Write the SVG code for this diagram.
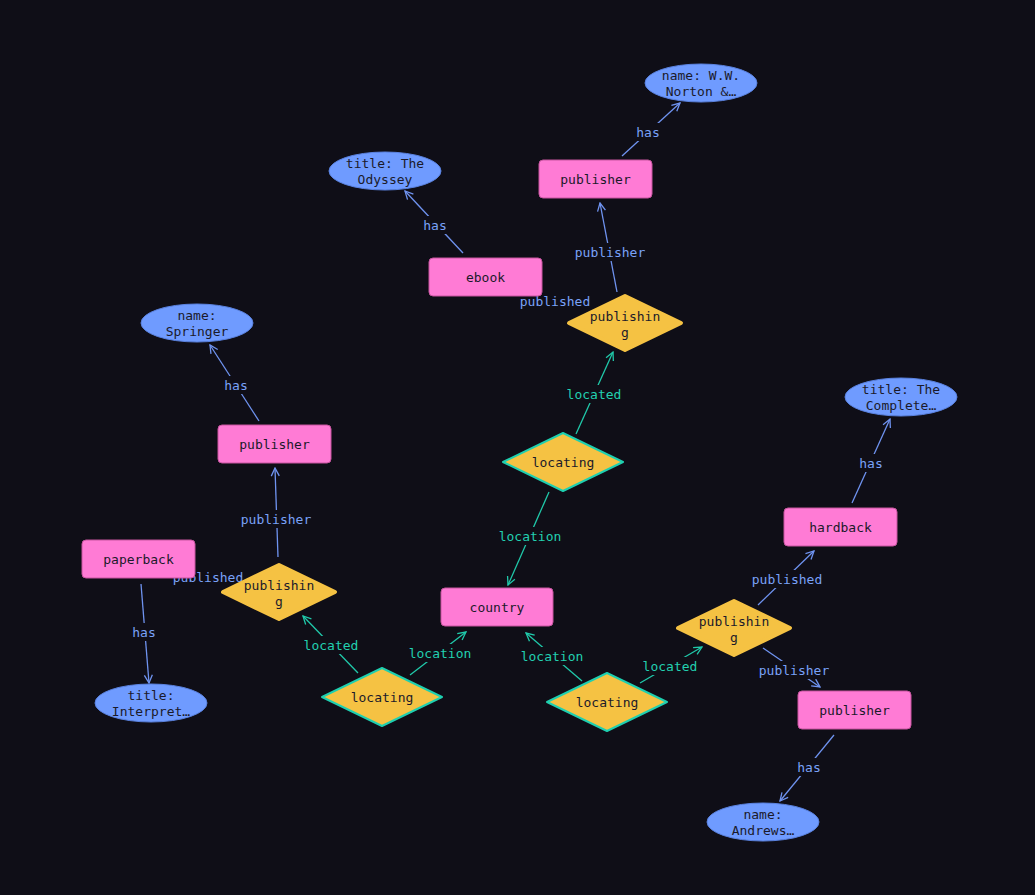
<svg xmlns="http://www.w3.org/2000/svg" width="1035" height="895" viewBox="0 0 1035 895">
<defs>
<marker id="ab" viewBox="0 0 10 10" refX="9" refY="5" markerWidth="10" markerHeight="10" markerUnits="userSpaceOnUse" orient="auto">
<path d="M1,1 L9,5 L1,9" fill="none" stroke="#6f93f0" stroke-width="1.3"/>
</marker>
<marker id="at" viewBox="0 0 10 10" refX="9" refY="5" markerWidth="10" markerHeight="10" markerUnits="userSpaceOnUse" orient="auto">
<path d="M1,1 L9,5 L1,9" fill="none" stroke="#20c9aa" stroke-width="1.3"/>
</marker>
</defs>
<style>
text{font-family:"DejaVu Sans Mono","Liberation Mono",monospace;font-size:13px;text-anchor:middle}
.n{fill:#1b1a2a}
.rect{fill:#ff7bd5;stroke:#c7559f;stroke-width:1}
.ell{fill:#6f9bff;stroke:#5a82e0;stroke-width:1}
.pub{fill:#f5c243;stroke:#f5c243;stroke-width:4;stroke-linejoin:round}
.loc{fill:#f5c243;stroke:#1ecfb0;stroke-width:2;stroke-linejoin:round}
.eb{stroke:#6f93f0;stroke-width:1.3;fill:none;marker-end:url(#ab)}
.et{stroke:#20c9aa;stroke-width:1.3;fill:none;marker-end:url(#at)}
.lb{fill:#7aa2f7}
.lt{fill:#22d0b0}
.bg{fill:#0f0e17}
</style>
<rect width="1035" height="895" fill="#0f0e17"/>
<g id="connectors">
<line class="eb" x1="622" y1="156" x2="680" y2="103"/>
<line class="eb" x1="617" y1="292" x2="600" y2="203"/>
<line class="eb" x1="463" y1="253" x2="405" y2="191"/>
<line class="et" x1="576" y1="434" x2="613" y2="352"/>
<line class="et" x1="549" y1="492" x2="508" y2="585"/>
<line class="eb" x1="259" y1="421" x2="210" y2="345"/>
<line class="eb" x1="278" y1="557" x2="275" y2="468"/>
<line class="eb" x1="141" y1="584" x2="149" y2="683"/>
<line class="et" x1="358" y1="673" x2="303" y2="616"/>
<line class="et" x1="410" y1="675" x2="466" y2="632"/>
<line class="et" x1="582" y1="681" x2="526" y2="633"/>
<line class="et" x1="640" y1="683" x2="702" y2="647"/>
<line class="eb" x1="758" y1="605" x2="814" y2="551"/>
<line class="eb" x1="763" y1="648" x2="820" y2="687"/>
<line class="eb" x1="852" y1="503" x2="890" y2="419"/>
<line class="eb" x1="834" y1="735" x2="780" y2="801"/>
<rect class="bg" x="634" y="123" width="28" height="18"/><text class="lb" x="648" y="137">has</text>
<rect class="bg" x="573" y="243" width="74" height="18"/><text class="lb" x="610" y="257">publisher</text>
<rect class="bg" x="421" y="216" width="28" height="18"/><text class="lb" x="435" y="230">has</text>
<rect class="bg" x="564" y="385" width="60" height="18"/><text class="lt" x="594" y="399">located</text>
<rect class="bg" x="496" y="527" width="68" height="18"/><text class="lt" x="530" y="541">location</text>
<rect class="bg" x="222" y="376" width="28" height="18"/><text class="lb" x="236" y="390">has</text>
<rect class="bg" x="239" y="510" width="74" height="18"/><text class="lb" x="276" y="524">publisher</text>
<rect class="bg" x="130" y="623" width="28" height="18"/><text class="lb" x="144" y="637">has</text>
<rect class="bg" x="301" y="636" width="60" height="18"/><text class="lt" x="331" y="650">located</text>
<rect class="bg" x="406" y="644" width="68" height="18"/><text class="lt" x="440" y="658">location</text>
<rect class="bg" x="518" y="647" width="68" height="18"/><text class="lt" x="552" y="661">location</text>
<rect class="bg" x="640" y="657" width="60" height="18"/><text class="lt" x="670" y="671">located</text>
<rect class="bg" x="750" y="570" width="74" height="18"/><text class="lb" x="787" y="584">published</text>
<rect class="bg" x="757" y="661" width="74" height="18"/><text class="lb" x="794" y="675">publisher</text>
<rect class="bg" x="857" y="454" width="28" height="18"/><text class="lb" x="871" y="468">has</text>
<rect class="bg" x="795" y="758" width="28" height="18"/><text class="lb" x="809" y="772">has</text>
<text class="lb" x="555" y="306">published</text>
<text class="lb" x="208" y="582">published</text>
</g>
<g id="publisher1"><rect class="rect" x="539" y="160" width="113" height="38" rx="4"/><text class="n" x="595.5" y="184">publisher</text></g>
<g id="ebook"><rect class="rect" x="429" y="258" width="113" height="38" rx="4"/><text class="n" x="485.5" y="282">ebook</text></g>
<g id="publisher2"><rect class="rect" x="218" y="425" width="113" height="38" rx="4"/><text class="n" x="274.5" y="449">publisher</text></g>
<g id="paperback"><rect class="rect" x="82" y="540" width="113" height="38" rx="4"/><text class="n" x="138.5" y="564">paperback</text></g>
<g id="country"><rect class="rect" x="441" y="588" width="112" height="38" rx="4"/><text class="n" x="497" y="612">country</text></g>
<g id="hardback"><rect class="rect" x="784" y="508" width="113" height="38" rx="4"/><text class="n" x="840.5" y="532">hardback</text></g>
<g id="publisher3"><rect class="rect" x="798" y="691" width="113" height="38" rx="4"/><text class="n" x="854.5" y="715">publisher</text></g>
<g id="name1"><ellipse class="ell" cx="701" cy="83" rx="56" ry="19"/><text class="n" x="701" y="80">name: W.W.</text><text class="n" x="701" y="96">Norton &amp;…</text></g>
<g id="title1"><ellipse class="ell" cx="385" cy="171" rx="56" ry="19"/><text class="n" x="385" y="168">title: The</text><text class="n" x="385" y="184">Odyssey</text></g>
<g id="name2"><ellipse class="ell" cx="197" cy="323" rx="56" ry="19"/><text class="n" x="197" y="320">name:</text><text class="n" x="197" y="336">Springer</text></g>
<g id="title2"><ellipse class="ell" cx="901" cy="397" rx="56" ry="19"/><text class="n" x="901" y="394">title: The</text><text class="n" x="901" y="410">Complete…</text></g>
<g id="title3"><ellipse class="ell" cx="151" cy="703" rx="56" ry="19"/><text class="n" x="151" y="700">title:</text><text class="n" x="151" y="716">Interpret…</text></g>
<g id="name3"><ellipse class="ell" cx="763" cy="822" rx="56" ry="19"/><text class="n" x="763" y="819">name:</text><text class="n" x="763" y="835">Andrews…</text></g>
<g id="publishing1"><polygon class="pub" points="625,296 681,323 625,350 569,323"/><text class="n" x="625" y="321">publishin</text><text class="n" x="625" y="337">g</text></g>
<g id="publishing2"><polygon class="pub" points="279,565 335,592 279,619 223,592"/><text class="n" x="279" y="590">publishin</text><text class="n" x="279" y="606">g</text></g>
<g id="publishing3"><polygon class="pub" points="734,601 790,628 734,655 678,628"/><text class="n" x="734" y="626">publishin</text><text class="n" x="734" y="642">g</text></g>
<g id="locating1"><polygon class="loc" points="563,433 623,462 563,491 503,462"/><text class="n" x="563" y="467">locating</text></g>
<g id="locating2"><polygon class="loc" points="382,668 442,697 382,726 322,697"/><text class="n" x="382" y="702">locating</text></g>
<g id="locating3"><polygon class="loc" points="607,673 667,702 607,731 547,702"/><text class="n" x="607" y="707">locating</text></g>
</svg>
